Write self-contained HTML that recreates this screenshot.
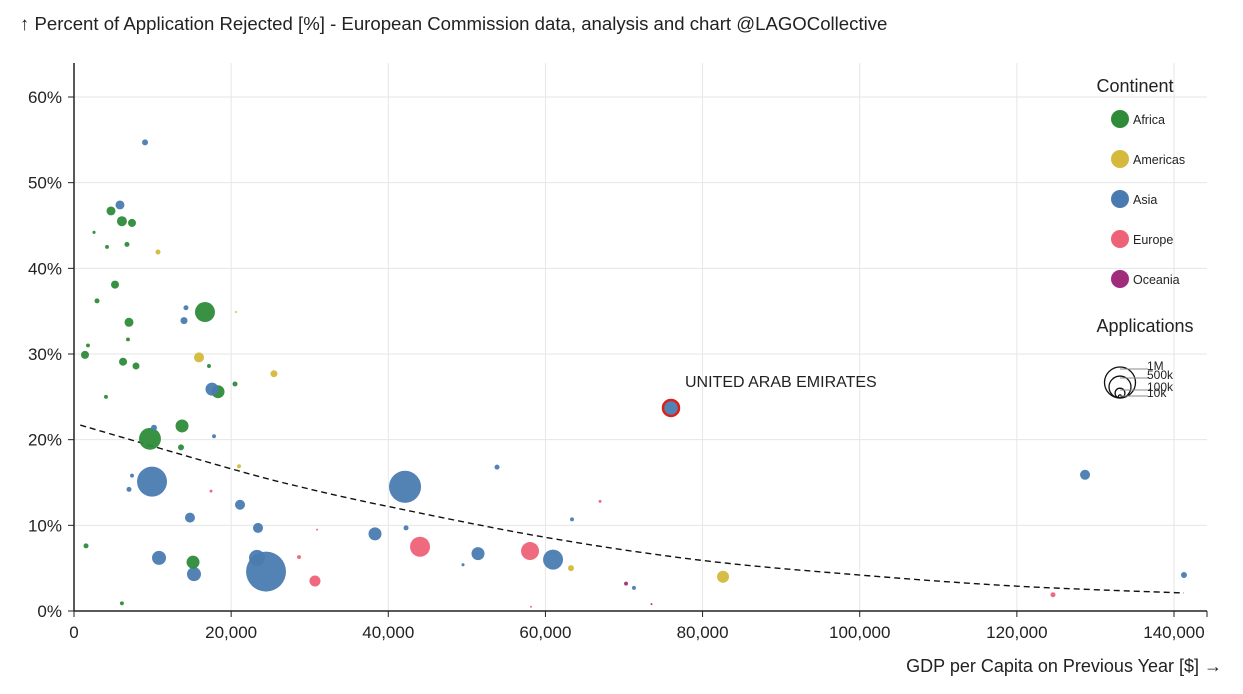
<!DOCTYPE html>
<html><head><meta charset="utf-8"><style>
body{margin:0;background:#fff;}
svg{display:block;font-family:"Liberation Sans",sans-serif;}
</style></head><body>
<svg id="chart" width="1243" height="694">
<text x="20" y="30" font-size="18.6" fill="#222">↑ Percent of Application Rejected [%] - European Commission data, analysis and chart @LAGOCollective</text>
<text x="1222" y="672" font-size="18" fill="#222" text-anchor="end">GDP per Capita on Previous Year [$] →</text>
<g id="grid"></g><g id="axes"></g><g id="trend"></g><g id="marks"></g><g id="legend"></g>
</svg>
<script>
const xTicks=[0,20000,40000,60000,80000,100000,120000,140000];
const yTicks=[0,10,20,30,40,50,60];
const gdp=[16670,9670,13750,18330,4710,6100,7380,15150,5220,7000,1400,6240,7890,6740,2550,4200,13620,20490,17180,2930,4070,6870,1530,6100,1780,
9930,24440,42130,23290,60970,38310,51420,10820,15270,17560,14760,21130,23420,128680,5850,9040,14000,14250,10180,7000,141270,53840,42260,63380,71270,17820,7380,75980,49510,
15910,25450,82600,10690,63250,21000,20600,
44040,58040,30670,124600,28640,17440,66950,58160,30930,
70260,73500];
const pct=[34.9,20.1,21.6,25.6,46.7,45.5,45.3,5.7,38.1,33.7,29.9,29.1,28.6,42.8,44.2,42.5,19.1,26.5,28.6,36.2,25.0,31.7,7.6,0.9,31.0,
15.1,4.6,14.5,6.2,6.0,9.0,6.7,6.2,4.3,25.9,10.9,12.4,9.7,15.9,47.4,54.7,33.9,35.4,21.4,14.2,4.2,16.8,9.7,10.7,2.7,20.4,15.8,23.7,5.4,
29.6,27.7,4.0,41.9,5.0,16.9,34.9,
7.5,7.0,3.5,1.9,6.3,14.0,12.8,0.5,9.5,
3.2,0.8];
const apps=[416000,500000,176000,176000,84000,104000,67000,176000,67000,84000,67000,67000,51000,26000,10000,16000,37000,26000,16000,26000,16000,16000,26000,16000,16000,
936000,1660000,1070000,266000,416000,176000,176000,204000,204000,176000,104000,104000,104000,104000,84000,37000,51000,26000,37000,26000,37000,26000,26000,16000,16000,16000,16000,266000,10000,
104000,51000,150000,26000,37000,16000,4000,
416000,337000,126000,26000,16000,9000,9000,4000,4000,
16000,4000];
const continent=["Africa","Africa","Africa","Africa","Africa","Africa","Africa","Africa","Africa","Africa","Africa","Africa","Africa","Africa","Africa","Africa","Africa","Africa","Africa","Africa","Africa","Africa","Africa","Africa","Africa",
"Asia","Asia","Asia","Asia","Asia","Asia","Asia","Asia","Asia","Asia","Asia","Asia","Asia","Asia","Asia","Asia","Asia","Asia","Asia","Asia","Asia","Asia","Asia","Asia","Asia","Asia","Asia","Asia","Asia",
"Americas","Americas","Americas","Americas","Americas","Americas","Americas",
"Europe","Europe","Europe","Europe","Europe","Europe","Europe","Europe","Europe",
"Oceania","Oceania"];
const highlightIndex=52;
const trendGdp=[800,20000,28760,40000,60000,80000,100000,120000,141270];
const trendPct=[21.7,16.6,14.5,12.2,8.6,5.9,4.2,2.9,2.1];
const continents=["Africa","Americas","Asia","Europe","Oceania"];
const colors={Africa:"#2e8b3a",Americas:"#d4b93c",Asia:"#4a7bb0",Europe:"#ee6277",Oceania:"#a02c7c"};
const legendSizes=[1000000,500000,100000,10000];
const legendSizeLabels=["1M","500k","100k","10k"];

const NS="http://www.w3.org/2000/svg";
const X=v=>74+v*1100/140000;
const Y=v=>611-v*514/60;
const R=v=>15.5*Math.sqrt(v/1e6);
function mk(tag,attrs,parent){const e=document.createElementNS(NS,tag);for(const k in attrs)e.setAttribute(k,attrs[k]);document.getElementById(parent).appendChild(e);return e;}

xTicks.forEach(t=>{
 const l=mk("line",{x1:X(t),x2:X(t),y1:63,y2:611,stroke:"#e6e6e6"},"grid");
 
 
 const tk=mk("line",{x1:X(t),x2:X(t),y1:611,y2:617,stroke:"#222"},"axes");
 
 
 const tx=mk("text",{x:X(t),y:638,"font-size":17,"text-anchor":"middle",fill:"#222"},"axes");
 tx.textContent=t.toLocaleString('en-US');
 
 
});
yTicks.forEach(t=>{
 const l=mk("line",{x1:74,x2:1207,y1:Y(t),y2:Y(t),stroke:"#e6e6e6"},"grid");
 
 
 const tk=mk("line",{x1:68,x2:74,y1:Y(t),y2:Y(t),stroke:"#222"},"axes");
 
 
 const tx=mk("text",{x:62,y:Y(t)+6,"font-size":17,"text-anchor":"end",fill:"#222"},"axes");
 tx.textContent=t+"%";
 
 
});
const ya=mk("line",{x1:74,x2:74,y1:63,y2:611,stroke:"#222","stroke-width":1.5},"axes");


const xa=mk("line",{x1:74,x2:1207,y1:611,y2:611,stroke:"#222","stroke-width":1.5},"axes");


mk("line",{x1:1207,x2:1207,y1:611,y2:617,stroke:"#222"},"axes");

// smooth Catmull-Rom through trend points
const P=trendGdp.map((g,i)=>[X(g),Y(trendPct[i])]);
let d="M"+P[0][0]+","+P[0][1];
for(let i=0;i<P.length-1;i++){
 const p0=P[Math.max(0,i-1)],p1=P[i],p2=P[i+1],p3=P[Math.min(P.length-1,i+2)];
 const c1=[p1[0]+(p2[0]-p0[0])/6,p1[1]+(p2[1]-p0[1])/6];
 const c2=[p2[0]-(p3[0]-p1[0])/6,p2[1]-(p3[1]-p1[1])/6];
 d+=" C"+c1[0]+","+c1[1]+" "+c2[0]+","+c2[1]+" "+p2[0]+","+p2[1];
}
const tp=mk("path",{d:d,fill:"none",stroke:"#111","stroke-width":1.4,"stroke-dasharray":"6,4"},"trend");



const order=gdp.map((_,i)=>i).sort((a,b)=>apps[b]-apps[a]);
order.forEach(i=>{
 const c=mk("circle",{cx:X(gdp[i]),cy:Y(pct[i]),r:Math.max(0.8,R(apps[i])),fill:colors[continent[i]],"fill-opacity":0.95},"marks");
 if(i===highlightIndex){c.setAttribute("stroke","#d9221c");c.setAttribute("stroke-width",2.5);}
 
 
});
const ann=mk("text",{x:X(gdp[highlightIndex])+14,y:Y(pct[highlightIndex])-21,"font-size":16,fill:"#222"},"marks");
ann.textContent="UNITED ARAB EMIRATES";



const lt=mk("text",{x:1135,y:92,"font-size":18,"text-anchor":"middle",fill:"#222"},"legend");
lt.textContent="Continent";


continents.forEach((c,k)=>{
 const cy=119+k*40;
 const cc=mk("circle",{cx:1120,cy:cy,r:9,fill:colors[c]},"legend");
 
 
 const t=mk("text",{x:1133,y:cy+5,"font-size":12.5,fill:"#222"},"legend");
 t.textContent=c;
 
 
});
const at=mk("text",{x:1145,y:332,"font-size":18,"text-anchor":"middle",fill:"#222"},"legend");
at.textContent="Applications";


const base=398;
legendSizes.forEach((s,k)=>{
 const r=R(s);
 const c=mk("circle",{cx:1120,cy:base-r,r:r,fill:"none",stroke:"#111","stroke-width":1.3},"legend");
 
 
 const ly=[369,378,390,396][k];
 mk("line",{x1:1120,x2:1148,y1:ly,y2:ly,stroke:"#888","stroke-width":1},"legend");
 const t=mk("text",{x:1147,y:ly+1,"font-size":12,fill:"#222"},"legend");
 t.textContent=legendSizeLabels[k];
 
 
});
</script>
</body></html>
